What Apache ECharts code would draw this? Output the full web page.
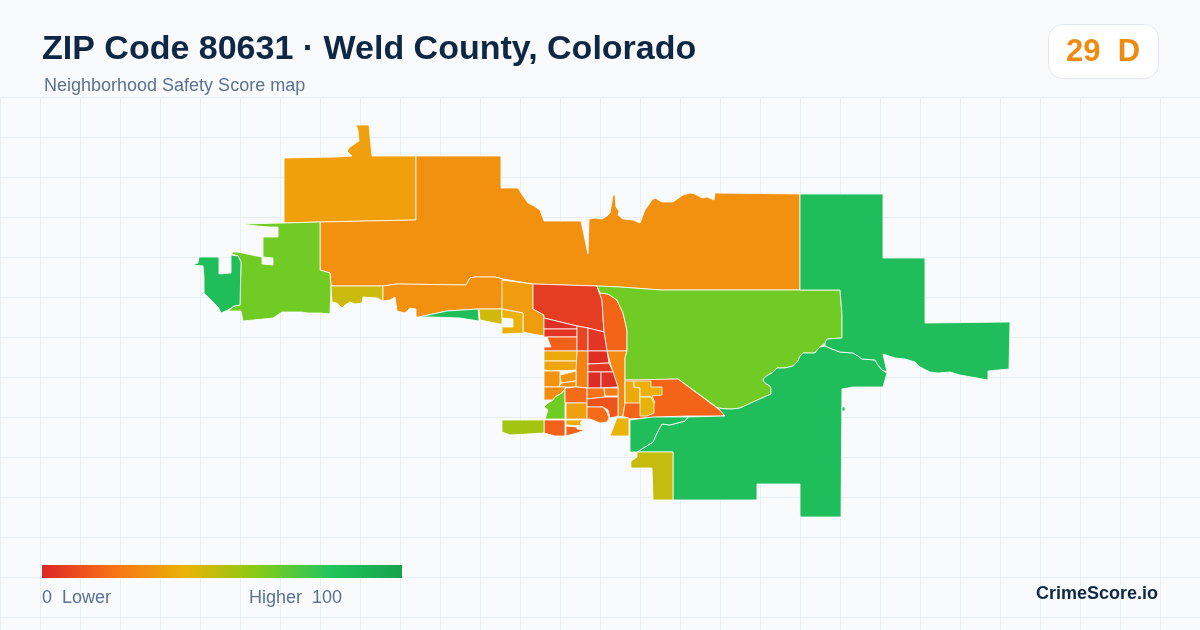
<!DOCTYPE html>
<html><head><meta charset="utf-8">
<style>html,body{margin:0;padding:0;background:#f8fafc}#c{width:1200px;height:630px}</style>
<script src="https://cdn.jsdelivr.net/npm/echarts@6/dist/echarts.min.js"></script>
</head><body><div id="c"></div>
<script>
const titleText = 'ZIP Code 80631 · Weld County, Colorado';
const subtitleText = 'Neighborhood Safety Score map';
const scoreText = '29  D';
const legendLow = '0  Lower';
const legendHigh = 'Higher  100';
const brandText = 'CrimeScore.io';
const scaleColors = ['#dc2626','#f97316','#eab308','#84cc16','#22c55e','#16a34a'];

// Tract outlines, in map units (east, south)
const outlines = {
 nwBlock:[[356,125],[369,125],[372,156],[416,156],[416,220],[320,222],[284,223],[284,158],[335,157],[352,156],[347,151],[350,147],[359,141],[358,130]],
 north:[[416,156],[501,156],[501,188],[518,188],[523,196],[528,203],[534,206],[540,210],[544,221],[581,221],[588,254],[589,219],[595,218],[602,219],[607,216],[610,213],[613,195],[615,195],[616,207],[619,211],[618,215],[623,219],[633,220],[640,223],[645,210],[652,200],[655,198],[662,202],[673,202],[683,195],[690,193],[695,194],[702,198],[707,197],[714,200],[715,193],[800,194],[800,290],[661,290],[620,287],[597,286],[533,284],[503,279],[495,277],[475,277],[470,278],[466,285],[397,284],[383,286],[331,286],[330,273],[320,270],[320,222],[416,220]],
 west:[[241,224],[257,226],[270,227],[278,227],[278,237],[263,237],[263,257],[273,258],[273,265],[262,264],[262,257],[237,252],[232,252],[232,254],[238,256],[241,262],[240,305],[234,306],[228,311],[241,311],[243,321],[273,318],[282,312],[302,312],[308,313],[320,313],[330,314],[331,286],[330,273],[320,270],[320,222],[284,223]],
 farWest:[[199,257],[219,257],[219,274],[231,273],[231,255],[232,254],[238,256],[241,262],[240,305],[234,306],[228,310],[221,313],[218,307],[210,299],[204,293],[204,277],[203,266],[192,265],[198,263]],
 oliveStrip:[[331,286],[383,286],[383,301],[377,298],[363,297],[362,303],[355,304],[350,302],[345,305],[342,308],[337,303],[332,302]],
 southRidge:[[383,286],[397,284],[466,285],[470,278],[475,277],[495,277],[503,279],[502,309],[478,309],[447,311],[419,317],[416,317],[416,309],[410,308],[405,313],[397,311],[395,297],[390,300],[383,301]],
 greenStrip:[[419,317],[447,311],[478,309],[479,321],[460,318],[433,317]],
 miniYellow:[[479,309],[502,309],[502,324],[500,324],[480,320]],
 amberA:[[502,280],[533,284],[533,309],[544,315],[544,336],[527,333],[523,332],[523,313],[502,309]],
 yellowA:[[502,309],[523,313],[523,332],[527,333],[502,334],[502,327],[513,327],[513,319],[502,318]],
 redTop:[[533,284],[597,286],[602,300],[603,317],[604,332],[588,328],[577,326],[544,318],[544,315],[533,309]],
 eastA:[[597,286],[600,293],[608,294],[617,300],[623,313],[627,330],[627,351],[607,351],[604,332],[603,317],[602,300]],
 eastB:[[607,351],[627,351],[625,358],[625,380],[625,403],[623,416],[618,417],[618,387],[613,373]],
 lime:[[597,286],[620,287],[661,290],[800,290],[840,290],[842,315],[842,338],[827,339],[825,343],[820,347],[817,350],[815,353],[803,353],[800,356],[798,361],[793,366],[785,368],[777,368],[772,373],[768,375],[764,378],[763,380],[765,383],[770,386],[771,389],[771,394],[753,402],[740,408],[733,409],[727,409],[718,408],[678,379],[652,380],[625,380],[625,358],[627,351],[627,330],[623,313],[617,300],[608,294],[600,293]],
 triangle:[[625,380],[678,379],[725,414],[723,416],[687,416],[657,417],[630,419],[623,416],[625,403]],
 yellowB:[[625,381],[634,381],[634,387],[640,388],[640,403],[625,403]],
 yellowC:[[634,381],[651,381],[651,387],[662,387],[662,395],[652,396],[655,403],[653,403],[651,397],[640,397],[640,388],[634,387]],
 yellowD:[[640,397],[651,397],[654,403],[654,413],[647,416],[640,416]],
 yellowE:[[617,418],[629,418],[629,436],[610,436]],
 redRowA:[[544,318],[577,326],[577,329],[544,329]],
 redRowB:[[544,329],[577,329],[577,337],[544,337]],
 orangeRow:[[547,337],[577,337],[577,351],[544,351],[544,347],[551,347],[549,342]],
 yellowRowA:[[544,351],[577,351],[577,361],[544,361]],
 yellowRowB:[[544,361],[577,361],[577,370],[550,371],[544,370]],
 colA:[[577,326],[588,328],[588,351],[577,351]],
 colB:[[588,328],[604,332],[607,351],[588,351]],
 colC:[[577,351],[588,351],[588,388],[576,387],[576,371]],
 redC:[[588,351],[607,351],[609,363],[588,364]],
 redD:[[588,364],[609,363],[613,372],[588,372]],
 redE:[[588,372],[601,372],[601,388],[588,388]],
 redF:[[601,372],[613,372],[618,387],[601,388]],
 midA:[[544,371],[560,371],[560,383],[559,387],[544,387]],
 midB:[[560,375],[576,371],[576,381],[561,383]],
 midC:[[561,383],[576,381],[576,387],[559,387]],
 midD:[[544,387],[566,387],[562,393],[555,397],[553,400],[544,400]],
 limeB:[[553,400],[555,397],[562,393],[565,389],[565,419],[545,419],[548,410],[544,407],[548,403]],
 midE:[[566,388],[576,387],[587,388],[587,403],[565,403],[565,389]],
 midF:[[566,403],[587,403],[587,419],[566,419]],
 yellowF:[[566,420],[583,420],[580,423],[582,426],[566,425]],
 southA:[[566,426],[577,427],[577,429],[585,430],[577,433],[566,436]],
 southB:[[544,420],[565,420],[565,436],[555,436],[544,433]],
 limeStrip:[[502,420],[544,420],[544,433],[510,435],[502,432]],
 rightA:[[587,388],[604,388],[605,397],[587,399]],
 rightB:[[604,388],[618,388],[618,396],[605,396]],
 rightC:[[587,399],[605,397],[618,397],[618,416],[610,418],[608,410],[603,407],[587,407]],
 rightD:[[587,407],[603,407],[607,412],[609,418],[607,422],[600,423],[590,419],[587,419]],
 southGreen:[[688,417],[725,416],[718,408],[727,409],[733,409],[740,408],[753,402],[771,394],[771,389],[770,386],[765,383],[763,380],[764,378],[768,375],[772,373],[777,368],[785,368],[793,366],[798,361],[800,356],[803,353],[815,353],[817,350],[820,347],[825,346],[832,349],[840,352],[853,353],[858,356],[862,359],[875,360],[878,365],[882,370],[887,373],[883,387],[853,387],[842,389],[841,517],[800,517],[800,484],[757,484],[757,500],[673,500],[673,452],[637,452],[645,447],[653,442],[657,433],[662,424],[670,425],[685,421]],
 swGreen:[[630,420],[653,417],[688,417],[685,421],[670,425],[662,424],[657,433],[653,442],[645,447],[637,452],[630,452]],
 neGreen:[[800,194],[883,194],[883,258],[925,258],[925,323],[1010,322],[1009,369],[988,371],[988,380],[960,375],[950,372],[938,373],[930,372],[920,367],[915,362],[905,359],[895,358],[883,354],[887,372],[882,370],[878,365],[875,360],[862,359],[858,356],[853,353],[840,352],[832,349],[825,346],[825,343],[827,339],[842,338],[842,315],[840,290],[800,290]],
 speck:[[842,407],[845,407],[845,411],[842,411]],
 oliveSouth:[[637,452],[673,452],[673,500],[653,500],[652,468],[631,468],[631,461],[637,457]]
};

const tractNames = Object.keys(outlines);
const tractScores = [34,29,64,84,46,29,84,45,33,39,6,16,27,64,16,37,39,41,40,2,4,15,37,36,8,4,25,2,5,1,3,30,31,29,28,64,18,34,38,16,15,54,20,23,12,18,84,84,84,84,47];

const gridX = [0,1200], gridY = [0,533], gridStep = 40;

const geo = {type:'FeatureCollection',features:tractNames.map(n=>({
  type:'Feature',properties:{name:n},
  geometry:{type:'Polygon',coordinates:[outlines[n].map(p=>[p[0],-p[1]])]}
}))};
echarts.registerMap('zip80631',geo);

const chart = echarts.init(document.getElementById('c'),null,{renderer:'canvas'});
const sans = '"Liberation Sans", Arial, sans-serif';
chart.setOption({
  animation:false,
  backgroundColor:'#f8fafc',
  grid:{left:0,right:0,top:97,bottom:0,show:false},
  xAxis:{type:'value',min:gridX[0],max:gridX[1],interval:gridStep,axisLine:{show:false},axisTick:{show:false},axisLabel:{show:false},
    splitLine:{show:true,lineStyle:{color:'#e8eff4',width:1}}},
  yAxis:{type:'value',inverse:true,min:gridY[0],max:gridY[1],interval:gridStep,axisLine:{show:false},axisTick:{show:false},axisLabel:{show:false},
    splitLine:{show:true,lineStyle:{color:'#e8eff4',width:1}}},
  title:[
    {text:titleText,left:42,top:33,padding:0,textStyle:{fontFamily:sans,fontWeight:'bold',fontSize:34,color:'#0f2744'}},
    {text:subtitleText,left:44,top:77,padding:0,textStyle:{fontFamily:sans,fontWeight:'normal',fontSize:18,color:'#5b7290'}},
    {text:legendLow,left:42,top:589,padding:0,textStyle:{fontFamily:sans,fontWeight:'normal',fontSize:18,color:'#5b7290'}},
    {text:legendHigh,left:249,top:589,padding:0,textStyle:{fontFamily:sans,fontWeight:'normal',fontSize:18,color:'#5b7290'}},
    {text:brandText,right:42,top:585,padding:0,textStyle:{fontFamily:sans,fontWeight:'bold',fontSize:18,color:'#0f2744'}}
  ],
  graphic:[
    {type:'rect',z:20,shape:{x:1048.5,y:24.5,width:110,height:54,r:14},style:{fill:'#ffffff',stroke:'#e2e8f0',lineWidth:1}},
    {type:'text',z:21,x:1103,y:52,style:{text:scoreText,fontFamily:sans,fontWeight:'bold',fontSize:31,fill:'#ee8c12',align:'center',verticalAlign:'middle'}},
    {type:'rect',z:20,shape:{x:42,y:565,width:360,height:13},style:{fill:new echarts.graphic.LinearGradient(0,0,1,0,scaleColors.map((c,i)=>({offset:i/(scaleColors.length-1),color:c})))}}
  ],
  visualMap:{type:'continuous',show:false,seriesIndex:0,min:0,max:100,inRange:{color:scaleColors}},
  series:[{type:'map',map:'zip80631',aspectScale:1,left:192,top:125,width:818,height:392,roam:false,silent:true,
    label:{show:false},emphasis:{disabled:true},select:{disabled:true},
    itemStyle:{borderColor:'#ffffff',borderWidth:0.8},
    data:tractNames.map((n,i)=>({name:n,value:tractScores[i]}))}]
});
</script></body></html>
